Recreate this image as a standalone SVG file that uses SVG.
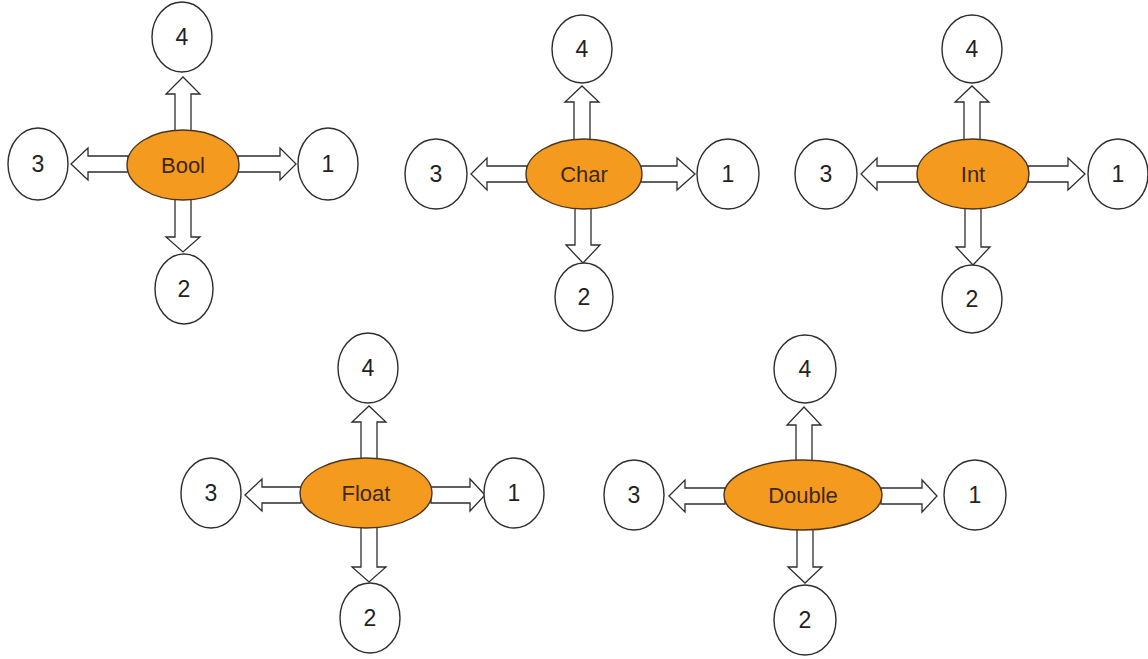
<svg xmlns="http://www.w3.org/2000/svg" width="1148" height="659" viewBox="0 0 1148 659">
<style>
.c{fill:#fff;stroke:#2e2e2e;stroke-width:1.4}
.e{fill:#f39a1f;stroke:#4a3520;stroke-width:1.4}
.a{fill:#fff;stroke:#2e2e2e;stroke-width:1.3;stroke-linejoin:miter}
.n{font-family:"Liberation Sans",Arial,sans-serif;font-size:23px;fill:#222;text-anchor:middle}
.l{font-family:"Liberation Sans",Arial,sans-serif;font-size:22px;fill:#3d2815;text-anchor:middle}
</style>
<rect width="1148" height="659" fill="#fff"/>
<g id="connectors">
<polygon class="a" points="175,131 175,94 166,94 183,77 200,94 191,94 191,131"/>
<polygon class="a" points="238,156 280,156 280,148 296,164 280,180 280,172 238,172"/>
<polygon class="a" points="128,156 88,156 88,148 71,164 88,180 88,172 128,172"/>
<polygon class="a" points="175,199 175,237 166,237 183,252 200,237 191,237 191,199"/>
<polygon class="a" points="574,140 574,102 565,102 582,86 599,102 590,102 590,140"/>
<polygon class="a" points="640,166 677,166 677,158 695,174 677,190 677,182 640,182"/>
<polygon class="a" points="527,166 487,166 487,158 471,174 487,190 487,182 527,182"/>
<polygon class="a" points="575,208 575,245 566,245 583,263 600,245 591,245 591,208"/>
<polygon class="a" points="964,140 964,102 955,102 972,86 989,102 980,102 980,140"/>
<polygon class="a" points="1028,166 1068,166 1068,158 1085,174 1068,190 1068,182 1028,182"/>
<polygon class="a" points="918,166 877,166 877,158 861,174 877,190 877,182 918,182"/>
<polygon class="a" points="965,208 965,247 956,247 973,265 990,247 981,247 981,208"/>
<polygon class="a" points="361,459 361,422 352,422 369,406 386,422 377,422 377,459"/>
<polygon class="a" points="431,487 470,487 470,479 485,495 470,511 470,503 431,503"/>
<polygon class="a" points="301,487 262,487 262,479 245,495 262,511 262,503 301,503"/>
<polygon class="a" points="361,527 361,567 352,567 369,582 386,567 377,567 377,527"/>
<polygon class="a" points="796,461 796,425 787,425 804,407 821,425 812,425 812,461"/>
<polygon class="a" points="881,488 922,488 922,480 937,496 922,512 922,504 881,504"/>
<polygon class="a" points="725,488 685,488 685,480 669,496 685,512 685,504 725,504"/>
<polygon class="a" points="797,529 797,567 788,567 805,583 822,567 813,567 813,529"/>
</g>
<g id="bool">
<ellipse class="e" cx="183" cy="165" rx="56" ry="35"/>
<text class="l" x="183" y="173">Bool</text>
</g>
<g id="bool-4"><ellipse class="c" cx="182" cy="37" rx="30" ry="35"/><text class="n" x="182" y="45">4</text></g>
<g id="bool-3"><ellipse class="c" cx="38" cy="164" rx="30" ry="36"/><text class="n" x="38" y="172">3</text></g>
<g id="bool-1"><ellipse class="c" cx="328" cy="164" rx="30" ry="36"/><text class="n" x="328" y="172">1</text></g>
<g id="bool-2"><ellipse class="c" cx="184" cy="289" rx="29" ry="35"/><text class="n" x="184" y="297">2</text></g>

<g id="char">
<ellipse class="e" cx="584" cy="174" rx="58" ry="35"/>
<text class="l" x="584" y="182">Char</text>
</g>
<g id="char-4"><ellipse class="c" cx="582" cy="49" rx="30" ry="34"/><text class="n" x="582" y="57">4</text></g>
<g id="char-3"><ellipse class="c" cx="436" cy="174" rx="31" ry="35"/><text class="n" x="436" y="182">3</text></g>
<g id="char-1"><ellipse class="c" cx="728" cy="174" rx="31" ry="35"/><text class="n" x="728" y="182">1</text></g>
<g id="char-2"><ellipse class="c" cx="584" cy="297" rx="29" ry="34"/><text class="n" x="584" y="305">2</text></g>

<g id="int">
<ellipse class="e" cx="973" cy="174" rx="56" ry="35"/>
<text class="l" x="973" y="182">Int</text>
</g>
<g id="int-4"><ellipse class="c" cx="972" cy="49" rx="30" ry="34"/><text class="n" x="972" y="57">4</text></g>
<g id="int-3"><ellipse class="c" cx="826" cy="174" rx="31" ry="35"/><text class="n" x="826" y="182">3</text></g>
<g id="int-1"><ellipse class="c" cx="1118" cy="174" rx="30" ry="35"/><text class="n" x="1118" y="182">1</text></g>
<g id="int-2"><ellipse class="c" cx="972" cy="299" rx="30" ry="34"/><text class="n" x="972" y="307">2</text></g>

<g id="float">
<ellipse class="e" cx="366" cy="493" rx="66" ry="35"/>
<text class="l" x="366" y="501">Float</text>
</g>
<g id="float-4"><ellipse class="c" cx="368" cy="368" rx="30" ry="35"/><text class="n" x="368" y="376">4</text></g>
<g id="float-3"><ellipse class="c" cx="211" cy="493" rx="30" ry="35"/><text class="n" x="211" y="501">3</text></g>
<g id="float-1"><ellipse class="c" cx="514" cy="493" rx="30" ry="35"/><text class="n" x="514" y="501">1</text></g>
<g id="float-2"><ellipse class="c" cx="370" cy="618" rx="30" ry="35"/><text class="n" x="370" y="626">2</text></g>

<g id="double">
<ellipse class="e" cx="803" cy="495" rx="79" ry="35"/>
<text class="l" x="803" y="503">Double</text>
</g>
<g id="double-4"><ellipse class="c" cx="805" cy="369" rx="31" ry="34"/><text class="n" x="805" y="377">4</text></g>
<g id="double-3"><ellipse class="c" cx="634" cy="495" rx="30" ry="35"/><text class="n" x="634" y="503">3</text></g>
<g id="double-1"><ellipse class="c" cx="975" cy="495" rx="31" ry="35"/><text class="n" x="975" y="503">1</text></g>
<g id="double-2"><ellipse class="c" cx="805" cy="620" rx="31" ry="35"/><text class="n" x="805" y="628">2</text></g>
</svg>
